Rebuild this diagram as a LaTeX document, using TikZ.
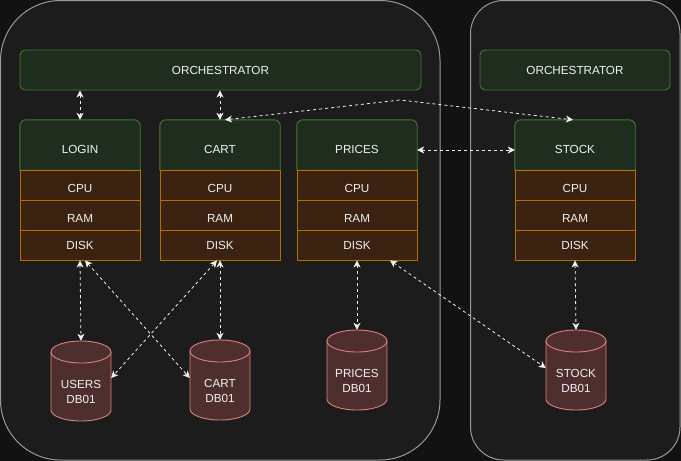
\documentclass[tikz,border=0pt]{standalone}
\usepackage{fontspec}
\setmainfont{Liberation Sans}
\usetikzlibrary{arrows.meta,calc}
\definecolor{bgout}{HTML}{121212}
\definecolor{contfill}{HTML}{1C1C1C}
\definecolor{contdraw}{HTML}{999999}
\definecolor{grfill}{HTML}{1F2D1E}
\definecolor{grdraw}{HTML}{457A2A}
\definecolor{rowfill}{HTML}{3B2211}
\definecolor{rowdraw}{HTML}{B37000}
\definecolor{dbfill}{HTML}{4F2E2E}
\definecolor{dbdraw}{HTML}{D9827B}
\definecolor{txt}{HTML}{F0F0F0}
\pgfdeclarelayer{bottom}
\pgfdeclarelayer{shapes}
\pgfsetlayers{bottom,shapes,main}
\tikzset{
  container/.style={draw=contdraw, fill=contfill, line width=1pt},
  orch/.style={draw=grdraw, fill=grfill, rounded corners=5pt, line width=0.9pt,
    text=txt, inner sep=0pt, font=\fontsize{11.7}{14}\selectfont},
  hdrnode/.style={inner sep=0pt, minimum width=120pt, minimum height=50pt,
    text=txt, font=\fontsize{11.7}{14}\selectfont},
  hdrshape/.style={draw=grdraw, fill=grfill, line width=0.9pt},
  rownode/.style={draw=rowdraw, fill=rowfill, line width=0.9pt, inner sep=0pt,
    minimum width=120pt, minimum height=30pt, text=txt, font=\fontsize{11.7}{14}\selectfont},
  dbnode/.style={inner sep=0pt, minimum width=60pt, minimum height=80pt,
    text=txt, font=\fontsize{11.7}{15}\selectfont},
  dbshape/.style={draw=dbdraw, fill=dbfill, line width=0.9pt},
  dbline/.style={draw=dbdraw, line width=0.9pt},
  conn/.style={draw=txt, line width=0.8pt, dash pattern=on 3pt off 3pt,
    {Stealth[length=7pt,width=7pt,inset=2pt]}-{Stealth[length=7pt,width=7pt,inset=2pt]}}
}
\newcommand\lowered[2]{\raisebox{-#1}[\height][\depth]{#2}}
\newcommand\svc[3]{% prefix, cx, label
  \node[hdrnode] (#1head) at (#2,145) {\lowered{4.5pt}{#3}};
  \node[rownode] (#1cpu) at (#2,185) {\lowered{3pt}{CPU}};
  \node[rownode] (#1ram) at (#2,215) {\lowered{3pt}{RAM}};
  \node[rownode] (#1disk) at (#2,245) {DISK};
  \begin{pgfonlayer}{shapes}
    \path[hdrshape] (#1head.south west) [rounded corners=6pt] -- (#1head.north west)
      -- (#1head.north east) [sharp corners] -- (#1head.south east) -- cycle;
  \end{pgfonlayer}
}
\newcommand\dbcyl[4]{% name, cx, cy, text
  \node[dbnode] (#1) at (#2,#3) {\lowered{12pt}{\begin{tabular}{@{}c@{}}#4\end{tabular}}};
  \begin{pgfonlayer}{shapes}
    \path[dbshape] (#2-30,#3+29) arc[start angle=180,end angle=360,x radius=30pt,y radius=11pt]
      -- (#2+30,#3-29) arc[start angle=0,end angle=180,x radius=30pt,y radius=11pt] -- cycle;
    \draw[dbline] (#2-30,#3-29) arc[start angle=180,end angle=360,x radius=30pt,y radius=11pt];
  \end{pgfonlayer}
}
\begin{document}
\begin{tikzpicture}[x=1pt,y=-1pt]
\begin{pgfonlayer}{bottom}
  \fill[bgout] (0,0) rectangle (681,461);
  \path[container, rounded corners=60pt] (0.5,0.5) rectangle (440,460);
  \path[container, rounded corners=33pt] (470.5,0.5) rectangle (680,460);
\end{pgfonlayer}
\useasboundingbox (0,0) rectangle (681,461);

\node[orch, minimum width=401pt, minimum height=40pt] (orch) at (220.5,70) {ORCHESTRATOR};
\node[orch, minimum width=190pt, minimum height=40pt] (orch2) at (575,70) {ORCHESTRATOR};

\svc{l}{80}{LOGIN}
\svc{c}{220}{CART}
\svc{p}{357}{PRICES}
\svc{s}{575}{STOCK}

\dbcyl{users}{81}{381}{USERS\\DB01}
\dbcyl{cartdb}{220}{380}{CART\\DB01}
\dbcyl{pricesdb}{357}{370}{PRICES\\DB01}
\dbcyl{stockdb}{576}{370}{STOCK\\DB01}

\coordinate (wp) at (400,100);

\draw[conn] (lhead.north |- orch.south) -- (lhead.north);
\draw[conn] (chead.north |- orch.south) -- (chead.north);
\draw[conn] ([xshift=5pt]chead.north) -- (wp) -- ([xshift=-2pt]shead.north);
\draw[conn] ([yshift=-5pt]phead.east) -- ([yshift=-5pt]shead.west);
\draw[conn] (ldisk.south) -- (users.north);
\draw[conn] ([xshift=5pt]ldisk.south) -- ([yshift=2pt]cartdb.west);
\draw[conn] ([xshift=-3pt]cdisk.south) -- ([yshift=3pt]users.east);
\draw[conn] (cdisk.south) -- (cartdb.north);
\draw[conn] (pdisk.south) -- (pricesdb.north);
\draw[conn] ([xshift=33pt]pdisk.south) -- ([yshift=2pt]stockdb.west);
\draw[conn] (sdisk.south) -- (stockdb.north);
\end{tikzpicture}
\end{document}
